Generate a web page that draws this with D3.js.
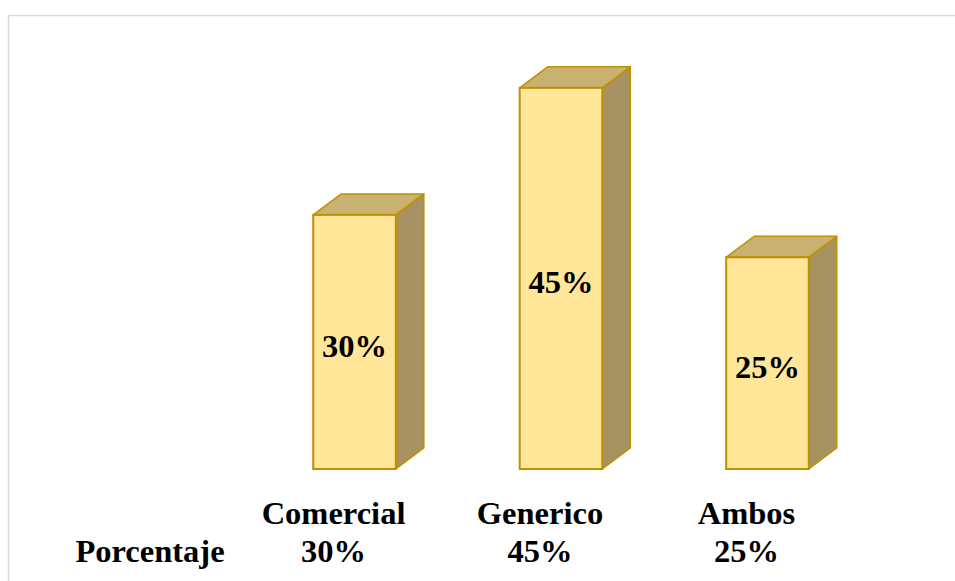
<!DOCTYPE html>
<html>
<head>
<meta charset="utf-8">
<script src="https://cdn.jsdelivr.net/npm/d3@7"></script>
<style>
  body{margin:0;background:#fff;}
  svg{display:block;}
</style>
</head>
<body>
<div id="graph"></div>
<script>
// data
const categories = ["Comercial", "Generico", "Ambos"]
const values = [30, 45, 25]
const valueLabels = ["30%", "45%", "25%"]
const rowTitle = "Porcentaje"

let width = 955
let height = 581
let dx = 28, dy = 21   // depth of the 3d boxes

let svg = d3.select("#graph")
  .append("svg")
  .attr("width", width)
  .attr("height", height)

// outer frame
svg.append("rect")
  .attr("x", 8.5).attr("y", 15.5)
  .attr("width", 960).attr("height", 600)
  .attr("fill", "none")
  .attr("stroke", "#d9d9d9")
  .attr("stroke-width", 1.5)

// scales
let x = d3.scaleBand()
  .domain(categories)
  .range([210, 912])
  .paddingInner(0.6)
  .paddingOuter(0.5)

let y = d3.scaleLinear()
  .domain([0, 50])
  .range([469, 45.5])

let bars = svg.selectAll(".bar")
  .data(categories)
  .enter().append("g")
  .attr("class", "bar")

const stroke = "#bf9000"
let font = "'Liberation Serif','Times New Roman',serif"
let fsize = "32.5px"

// side face
bars.append("path")
  .attr("d", (d, i) => {
    let x1 = x(d) + x.bandwidth()
    let t = y(values[i]), b = y(0)
    return `M${x1},${t} L${x1+dx},${t-dy} L${x1+dx},${b-dy} L${x1},${b} Z`
  })
  .attr("fill", "#a69361")
  .attr("stroke", stroke).attr("stroke-width", 1.5)
  .attr("stroke-linejoin", "round")

// top face
bars.append("path")
  .attr("d", (d, i) => {
    let x0 = x(d), x1 = x0 + x.bandwidth()
    let t = y(values[i])
    return `M${x0},${t} L${x0+dx},${t-dy} L${x1+dx},${t-dy} L${x1},${t} Z`
  })
  .attr("fill", "#c9b271")
  .attr("stroke", stroke).attr("stroke-width", 1.5)
  .attr("stroke-linejoin", "round")

// front face
bars.append("rect")
  .attr("x", d => x(d))
  .attr("y", (d, i) => y(values[i]))
  .attr("width", x.bandwidth())
  .attr("height", (d, i) => y(0) - y(values[i]))
  .attr("fill", "#ffe699")
  .attr("stroke", stroke).attr("stroke-width", 2)

// value labels inside bars
bars.append("text")
  .attr("x", d => x(d) + x.bandwidth() / 2)
  .attr("y", (d, i) => (y(values[i]) + y(0)) / 2 + 15)
  .attr("text-anchor", "middle")
  .style("font-family", font)
  .style("font-weight", "bold")
  .style("font-size", fsize)
  .text((d, i) => valueLabels[i])

// data table under the chart
let tableShift = -21

svg.selectAll(".cat")
  .data(categories)
  .enter().append("text")
  .attr("class", "cat")
  .attr("x", d => x(d) + x.bandwidth() / 2 + tableShift)
  .attr("y", 524)
  .attr("text-anchor", "middle")
  .style("font-family", font)
  .style("font-weight", "bold")
  .style("font-size", fsize)
  .text(d => d)

svg.selectAll(".val")
  .data(categories)
  .enter().append("text")
  .attr("class", "val")
  .attr("x", d => x(d) + x.bandwidth() / 2 + tableShift)
  .attr("y", 562)
  .attr("text-anchor", "middle")
  .style("font-family", font)
  .style("font-weight", "bold")
  .style("font-size", fsize)
  .text((d, i) => valueLabels[i])

svg.append("text")
  .attr("x", 150)
  .attr("y", 562)
  .attr("text-anchor", "middle")
  .style("font-family", font)
  .style("font-weight", "bold")
  .style("font-size", fsize)
  .text(rowTitle)
</script>
</body>
</html>
